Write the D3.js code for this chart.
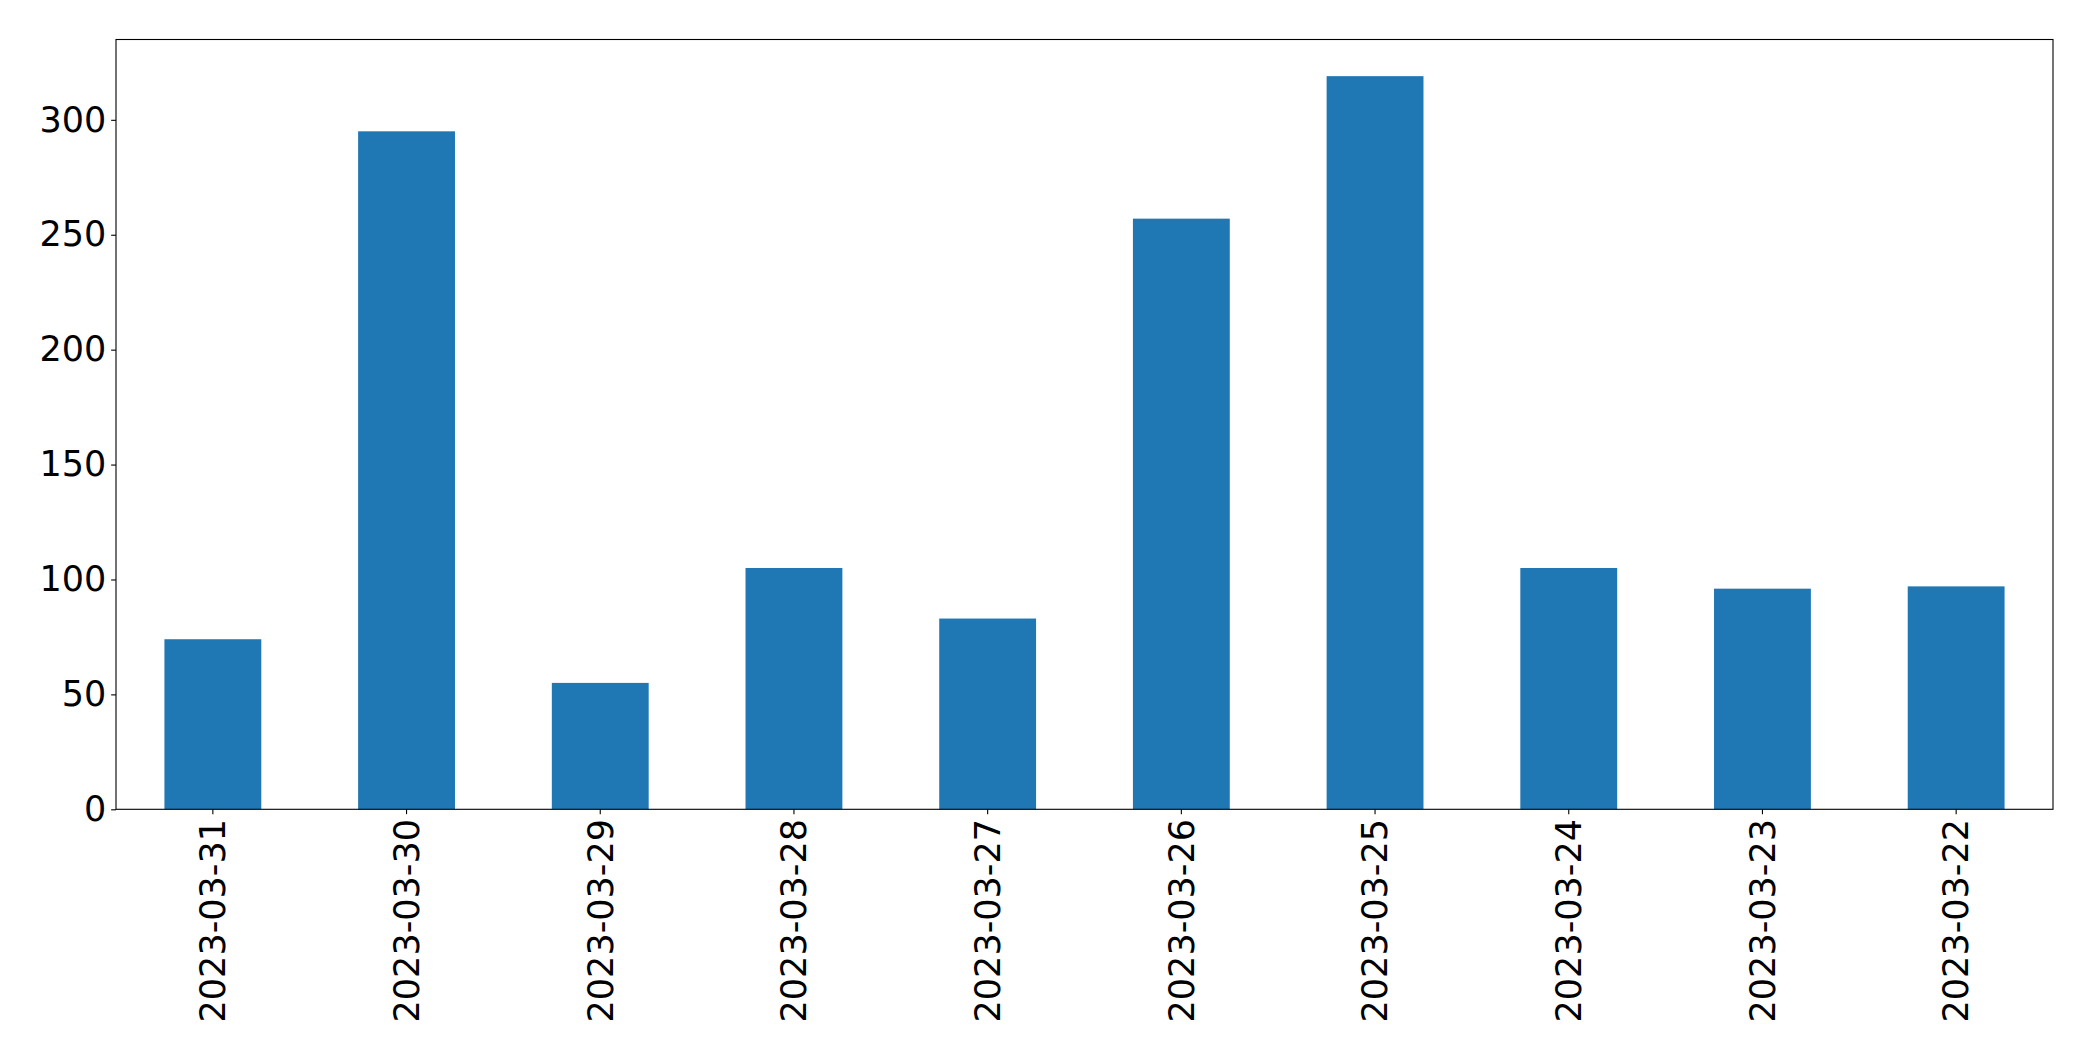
<!DOCTYPE html>
<html>
<head>
<meta charset="utf-8">
<script src="https://cdn.jsdelivr.net/npm/d3@7"></script>
<style>
  body { margin: 0; background: #fff; }
  text { font-family: "DejaVu Sans", sans-serif; }
</style>
</head>
<body>
<div id="chart"></div>
<script>
// data
var dates = ["2023-03-31", "2023-03-30", "2023-03-29", "2023-03-28", "2023-03-27",
             "2023-03-26", "2023-03-25", "2023-03-24", "2023-03-23", "2023-03-22"];
var counts = [74, 295, 55, 105, 83, 257, 319, 105, 96, 97];
var yTicks = [0, 50, 100, 150, 200, 250, 300];

var data = dates.map(function(d, i) { return {date: d, value: counts[i]}; });

var margin = {top: 39.5, right: 40, bottom: 251.7, left: 116},
    width = 2093 - margin.left - margin.right,
    height = 1061 - margin.top - margin.bottom;

var tickLen = 4.86, tickPad = 4.86, fontSize = 35;

var svg = d3.select("#chart")
  .append("svg")
    .attr("width", 2093)
    .attr("height", 1061)
  .append("g")
    .attr("transform", "translate(" + margin.left + "," + margin.top + ")");

var x = d3.scaleBand()
  .domain(dates)
  .range([0, width])
  .paddingInner(0.5)
  .paddingOuter(0.25);

var y = d3.scaleLinear()
  .domain([0, d3.max(counts) * 1.05])
  .range([height, 0]);

// bars
svg.selectAll(".bar")
  .data(data)
  .enter()
  .append("rect")
    .attr("class", "bar")
    .attr("x", function(d) { return x(d.date); })
    .attr("y", function(d) { return y(d.value); })
    .attr("width", x.bandwidth())
    .attr("height", function(d) { return height - y(d.value); })
    .attr("fill", "#1f77b4");

// y axis
var yAxis = svg.append("g")
  .call(d3.axisLeft(y).tickValues(yTicks).tickSize(tickLen).tickPadding(tickPad));
yAxis.select(".domain").remove();
yAxis.selectAll("line").attr("stroke", "#000").attr("stroke-width", 1.1);
yAxis.selectAll("text")
  .attr("fill", "#000")
  .style("font-size", fontSize + "px");

// x axis
var xAxis = svg.append("g")
  .attr("transform", "translate(0," + height + ")")
  .call(d3.axisBottom(x).tickSize(tickLen).tickPadding(tickPad));
xAxis.select(".domain").remove();
xAxis.selectAll("line").attr("stroke", "#000").attr("stroke-width", 1.1);
xAxis.selectAll("text")
  .attr("fill", "#000")
  .style("font-size", fontSize + "px")
  .attr("y", 0)
  .attr("dy", "0.35em")
  .attr("transform", "translate(0," + (tickLen + tickPad) + ")rotate(-90)")
  .style("text-anchor", "end");

// frame
svg.append("rect")
  .attr("x", 0)
  .attr("y", 0)
  .attr("width", width)
  .attr("height", height)
  .attr("fill", "none")
  .attr("stroke", "#000")
  .attr("stroke-width", 1.1);
</script>
</body>
</html>
